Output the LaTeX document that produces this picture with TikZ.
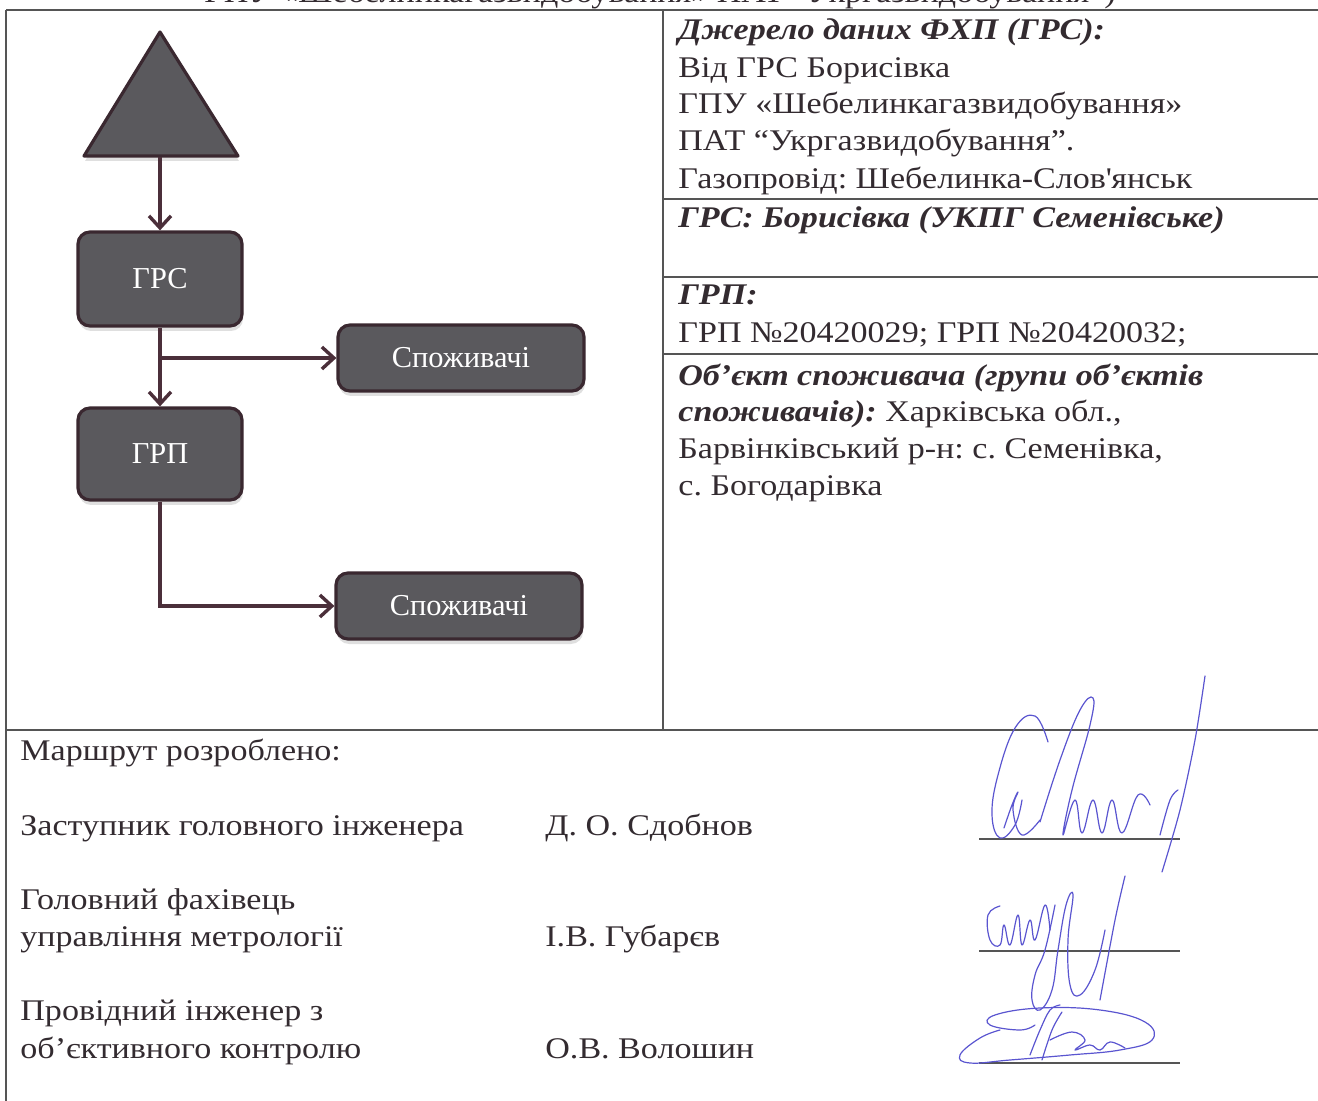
\documentclass[tikz,border=0pt]{standalone}
\usepackage{fontspec}
\setmainfont[FakeStretch=1.135]{Liberation Serif}
\newfontfamily\boxfont{Liberation Serif}
\usetikzlibrary{arrows.meta,shadows}
\definecolor{textc}{HTML}{332B30}
\definecolor{rulec}{HTML}{555555}
\definecolor{boxfill}{HTML}{5A595D}
\definecolor{boxdraw}{HTML}{3A2830}
\definecolor{linkc}{HTML}{4B2F3A}
\definecolor{sigc}{HTML}{5A55D0}
\frenchspacing
\tikzset{
  txt/.style={anchor=base west, inner sep=0pt, text=textc, font=\fontsize{15}{18}\selectfont},
  hd/.style={txt, font=\fontsize{15}{18}\selectfont\bfseries\itshape},
  rule/.style={draw=rulec, line width=0.8pt},
  stepbox/.style={draw=boxdraw, line width=1.6pt, fill=boxfill, rounded corners=6pt,
    text=white, font=\boxfont\fontsize{15.2}{17}\selectfont, inner sep=0pt,
    drop shadow={shadow xshift=0.5pt, shadow yshift=-2.5pt, opacity=0.25}},
  link/.style={draw=linkc, line width=1.7pt, -{Straight Barb[length=6pt,width=11pt,line width=1.7pt]}},
  sig/.style={draw=sigc, line width=0.6pt, line cap=round, line join=round}
}
\begin{document}
\begin{tikzpicture}[x=0.5pt,y=-0.5pt]
\useasboundingbox (0,0) rectangle (1318,1101);
% clipped header text at top
\begin{scope}
\clip (0,0) rectangle (1318,9);
\node[txt, anchor=base] (hdr) at (660,3) {ГПУ «Шебелинкагазвидобування» ПАТ “Укргазвидобування”)};
\end{scope}
% table rules
\draw[rule] (6,10) -- (1318,10);
\draw[rule] (6,10) -- (6,1101);
\draw[rule] (663,10) -- (663,730);
\draw[rule] (663,199) -- (1318,199);
\draw[rule] (663,277) -- (1318,277);
\draw[rule] (663,354) -- (1318,354);
\draw[rule] (6,730) -- (1318,730);
\draw[rule] (979,839) -- (1180,839);
\draw[rule] (979,951) -- (1180,951);
\draw[rule] (979,1063) -- (1180,1063);
% diagram
\draw[draw=boxdraw, line width=1.6pt, fill=boxfill, line join=round,
  drop shadow={shadow xshift=0.5pt, shadow yshift=-2.5pt, opacity=0.25}]
  (160,32) -- (238,156) -- (84,156) -- cycle;
\coordinate (tri) at (160,157);
\node[stepbox, minimum width=82pt, minimum height=47pt] (grs) at (160,279) {ГРС};
\node[stepbox, minimum width=82pt, minimum height=46pt] (grp) at (160,454) {ГРП};
\node[stepbox, minimum width=123pt, minimum height=33pt] (c1) at (461,358) {Споживачі};
\node[stepbox, minimum width=123pt, minimum height=33pt] (c2) at (459,606) {Споживачі};
\draw[link] (tri) -- (grs.north);
\draw[link] (grs.south) -- (grp.north);
\draw[link] (grs.south |- c1.west) -- (c1.west);
\draw[link] (grp.south) |- (c2.west);
% right column text
\node[hd] (t1) at (678,40) {Джерело даних ФХП (ГРС):};
\node[txt] (t2) at (678,78) {Від ГРС Борисівка};
\node[txt] (t3) at (678,114) {ГПУ «Шебелинкагазвидобування»};
\node[txt] (t4) at (678,151) {ПАТ “Укргазвидобування”.};
\node[txt] (t5) at (678,189) {Газопровід: Шебелинка-Слов\textquotesingle янськ};
\node[hd] (t6) at (678,228) {ГРС: Борисівка (УКПГ Семенівське)};
\node[hd] (t7) at (678,305) {ГРП:};
\node[txt] (t8) at (678,343) {ГРП №20420029; ГРП №20420032;};
\node[hd] (t9) at (678,386) {Об’єкт споживача (групи об’єктів};
\node[txt] (t10) at (678,422) {\textbf{\textit{споживачів):}} Харківська обл.,};
\node[txt] (t11) at (678,459) {Барвінківський р-н: с. Семенівка,};
\node[txt] (t12) at (678,496) {с. Богодарівка};
% bottom text
\node[txt] (b1) at (20,760) {Маршрут розроблено:};
\node[txt] (b2) at (20,835) {Заступник головного інженера};
\node[txt] (b3) at (545,835) {Д. О. Сдобнов};
\node[txt] (b4) at (20,909) {Головний фахівець};
\node[txt] (b5) at (20,946) {управління метрології};
\node[txt] (b6) at (545,946) {І.В. Губарєв};
\node[txt] (b7) at (20,1020) {Провідний інженер з};
\node[txt] (b8) at (20,1058) {об’єктивного контролю};
\node[txt] (b9) at (545,1058) {О.В. Волошин};
% signature 1
\draw[sig] plot[smooth, tension=0.7] coordinates {(1048,742) (1035,716) (1015,728) (998,775) (992,815) (1000,838) (1015,825) (1022,800)};
\draw[sig] plot[smooth, tension=0.7] coordinates {(1004,828) (1012,805) (1018,792) (1013,810) (1022,835) (1040,820)};
\draw[sig] plot[smooth, tension=0.7] coordinates {(1040,822) (1060,760) (1080,710) (1093,698) (1090,725) (1072,790) (1063,835) (1075,800) (1082,833) (1093,800) (1102,833) (1112,800) (1122,833) (1138,795) (1150,805)};
\draw[sig] plot[smooth, tension=0.5] coordinates {(1205,676) (1195,740) (1180,810) (1162,872)};
\draw[sig] plot[smooth, tension=0.6] coordinates {(1160,835) (1170,800) (1178,790)};
% signature 2
\draw[sig] plot[smooth, tension=0.7] coordinates {(1000,906) (988,915) (990,940) (1000,945) (1004,925) (1010,945) (1018,915) (1022,945) (1030,920) (1035,940) (1045,905) (1050,930)};
\draw[sig] plot[smooth, tension=0.7] coordinates {(1055,905) (1045,950) (1035,975) (1032,1000) (1040,1010) (1052,990) (1058,950) (1066,905) (1073,895) (1068,940) (1070,985) (1080,995) (1095,970) (1105,930)};
\draw[sig] plot[smooth, tension=0.5] coordinates {(1125,876) (1115,920) (1100,1000)};
% signature 3
\draw[sig] plot[smooth, tension=0.7] coordinates {(1000,1030) (980,1038) (960,1055) (970,1063) (1010,1060) (1070,1055) (1120,1050) (1152,1040) (1145,1022) (1100,1010) (1040,1008) (995,1015) (990,1025) (1020,1030) (1035,1025)};
\draw[sig] plot[smooth, tension=0.6] coordinates {(1030,1055) (1040,1030) (1050,1010) (1060,1005)};
\draw[sig] plot[smooth, tension=0.6] coordinates {(1042,1060) (1052,1030) (1062,1012)};
\draw[sig] plot[smooth, tension=0.7] coordinates {(1050,1040) (1072,1032) (1085,1040) (1075,1050) (1090,1045) (1100,1050) (1110,1042) (1125,1048)};
\end{tikzpicture}
\end{document}
